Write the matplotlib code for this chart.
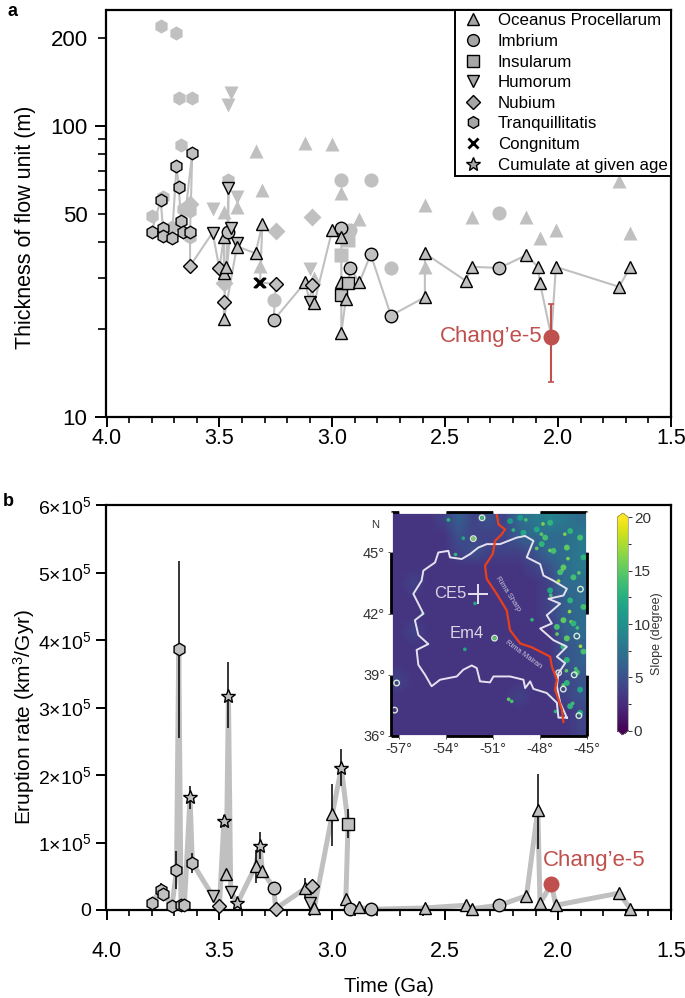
import matplotlib
matplotlib.use('Agg')
import matplotlib.pyplot as plt
import numpy as np
from matplotlib.colorbar import Colorbar
from matplotlib.colors import Normalize
from matplotlib.lines import Line2D

plt.rcParams['font.family'] = ['Liberation Sans', 'DejaVu Sans']
plt.rcParams['mathtext.default'] = 'regular'

# panel a: upper points, no outline
pale_age = [3.76, 3.69, 3.68, 3.62, 3.67, 3.75, 3.80, 3.66, 3.63, 3.46, 3.71, 3.63,
            3.63, 3.09, 3.25, 3.48,
            3.45, 3.46, 3.53, 3.42, 3.10,
            3.34, 3.31, 3.12, 3.00, 2.96, 2.88, 3.42, 3.48, 3.32, 2.59, 2.38, 2.14,
            2.08, 2.01, 1.73, 1.68, 2.59, 3.08,
            2.96, 2.83, 2.92, 2.74, 2.26, 3.26,
            2.96, 2.93]
pale_thick = [221, 208, 125, 125, 86, 57, 49, 52, 51, 65, 45, 41.6,
              54, 48.5, 43.7, 28.8,
              129.5, 118, 52, 57, 32.2,
              82, 60, 87, 86.5, 58.7, 48, 52.6, 50.5, 32.9, 53.5, 48.8, 48.8,
              41.3, 43.9, 64.7, 42.8, 32.8, 30,
              65, 65, 44, 32.5, 50.3, 25.3,
              36, 40.5]
pale_kind = ['h'] * 12 + ['D'] * 4 + ['v'] * 5 + ['^'] * 18 + ['o'] * 6 + ['s'] * 2

# panel a: outlined points joined by the line, in drawing order
thick_age = [3.80, 3.76, 3.75, 3.75, 3.71, 3.69, 3.68, 3.67, 3.66, 3.62, 3.63, 3.63,
             3.53, 3.50, 3.48, 3.48, 3.47, 3.46, 3.46, 3.45, 3.48, 3.48,
             3.42, 3.42, 3.34, 3.31, 3.32, 3.25, 3.26, 3.12, 3.10, 3.09, 3.08, 3.00,
             2.96, 2.96, 2.96, 2.96, 2.96, 2.94, 2.93, 2.92, 2.88, 2.83, 2.74,
             2.59, 2.59, 2.41, 2.38, 2.26, 2.14, 2.09, 2.08, 2.03, 2.01, 1.73, 1.68]
thick_val = [43.3, 55.7, 44.6, 42, 41.3, 72.9, 61.8, 47, 43.3, 81, 43.3, 33,
             43, 32.4, 41.6, 31.2, 32.7, 61.4, 43.3, 44.7, 24.9, 21.7,
             39.5, 38.5, 36.5, 45.9, 28.9, 28.7, 21.5, 29, 24.9, 28.5, 24.6, 44,
             44.5, 41.6, 29, 26.3, 19.5, 25.4, 28.8, 32.4, 29, 36.2, 22.3,
             25.8, 36.5, 29.4, 32.8, 32.5, 36, 32.8, 28.8, 18.9, 32.8, 28, 32.8]
thick_kind = ['h'] * 11 + ['D',
              'v', 'D', '^', '^', '^', 'v', 'o', 'v', 'D', '^',
              'v', '^', '^', '^', 'x', 'D', 'o', '^', 'v', 'D', '^', '^',
              'o', '^', '^', 's', '^', '^', 's', 'o', '^', 'o', 'o',
              '^', '^', '^', '^', 'o', '^', '^', '^', 'CE5', '^', '^', '^']
ce5_thick = 18.9
ce5_thick_low = 13.2
ce5_thick_high = 24.5

# panel b: eruption rate, units of 1e5 km3/Gyr
rate_age = [3.80, 3.76, 3.75, 3.71, 3.69, 3.68, 3.67, 3.655, 3.63, 3.62, 3.53, 3.50,
            3.48, 3.47, 3.46, 3.45, 3.42, 3.34, 3.32, 3.31, 3.26, 3.25, 3.12, 3.10,
            3.09, 3.08, 3.00, 2.96, 2.93, 2.94, 2.92, 2.88, 2.83,
            2.59, 2.41, 2.38, 2.26, 2.14, 2.09, 2.08, 2.03, 2.01, 1.73, 1.68]
rate_val = [0.10, 0.29, 0.24, 0.06, 0.59, 3.86, 0.08, 0.08, 1.67, 0.70, 0.21, 0.06,
            1.32, 0.54, 3.17, 0.27, 0.10, 0.65, 0.95, 0.58, 0.33, 0.02, 0.32, 0.10,
            0.36, 0.03, 1.42, 2.10, 1.28, 0.16, 0.02, 0.04, 0.01,
            0.03, 0.07, 0.02, 0.07, 0.21, 1.48, 0.10, 0.385, 0.07, 0.25, 0.02]
rate_kind = ['h', 'h', 'h', 'h', 'h', 'h', 'h', 'h', '*', 'h', 'v', 'D',
             '*', '^', '*', 'v', '*', '^', '*', '^', 'o', 'D', '^', 'v',
             'D', '^', '^', '*', 's', '^', 'o', '^', 'o',
             '^', '^', '^', 'o', '^', '^', '^', 'CE5', '^', '^', '^']

err_age = [3.76, 3.69, 3.68, 3.63, 3.62, 3.48, 3.46, 3.45, 3.34, 3.32, 3.12, 3.00, 2.96, 2.93, 2.09]
err_low = [0.20, 0.31, 2.55, 1.50, 0.55, 1.23, 2.70, 0.17, 0.40, 0.75, 0.18, 0.95, 1.83, 1.07, 0.91]
err_high = [0.40, 0.87, 5.17, 1.84, 0.85, 1.41, 3.67, 0.36, 0.89, 1.15, 0.47, 1.86, 2.38, 1.50, 2.01]

legend_kind = ['^', 'o', 's', 'v', 'D', 'h', 'x', '*']
legend_names = ['Oceanus Procellarum', 'Imbrium', 'Insularum', 'Humorum', 'Nubium',
                'Tranquillitatis', 'Congnitum', 'Cumulate at given age']

# inset: coarse slope map read by eye, north at the top, 13 columns west to east
slope_grid = [
    [3, 3, 3, 4, 6, 4, 5, 4, 7, 8, 9, 8, 7],
    [3, 3, 3, 3, 5, 4, 4, 4, 6, 7, 7, 7, 8],
    [3, 3, 3, 3, 4, 5, 4, 4, 4, 5, 7, 7, 8],
    [3, 3, 3, 3, 3, 3, 3, 3, 3, 4, 5, 7, 8],
    [3, 4, 3, 3, 3, 3, 3, 3, 3, 3, 4, 7, 7],
    [3, 3, 3, 3, 3, 3, 3, 3, 3, 3, 4, 6, 7],
    [3, 3, 3, 3, 3, 3, 3, 3, 3, 3, 4, 6, 7],
    [3, 4, 3, 3, 3, 3, 3, 3, 3, 3, 3, 6, 7],
    [3, 3, 3, 3, 3, 3, 3, 3, 3, 3, 3, 5, 6],
    [3, 3, 3, 3, 3, 3, 3, 3, 3, 3, 3, 5, 6],
    [4, 3, 3, 3, 3, 3, 3, 3, 3, 3, 3, 4, 5],
    [3, 3, 3, 3, 3, 3, 3, 3, 4, 3, 3, 4, 5],
    [3, 3, 3, 3, 3, 3, 3, 3, 3, 3, 3, 3, 4],
    [3, 3, 3, 3, 3, 3, 3, 3, 3, 3, 3, 3, 4],
]
crater_lon = [-50.9, -48.5, -52.8, -52.15, -50.0, -49.8, -46.6, -47.35, -46.0, -45.6, -46.1, -46.9,
              -47.3, -46.3, -45.7, -45.4, -46.5, -47.0, -45.9, -47.9, -48.9, -49.7, -52.26, -51.7,
              -53.86, -52.9, -53.4, -55.5, -46.2, -45.5, -46.8, -48.2, -47.8, -46.4]
crater_lat = [40.8, 41.7, 40.25, 42.5, 37.8, 37.7, 44.1, 45.1, 41.6, 41.3, 42.1, 41.0,
              42.9, 39.2, 39.3, 40.4, 38.5, 37.2, 37.6, 45.9, 46.6, 46.1, 45.68, 46.7,
              46.6, 45.7, 44.9, 42.0, 44.7, 44.0, 43.6, 45.2, 46.4, 45.9]
crater_slope = [15, 13, 12, 12, 15, 14, 17, 16, 16, 14, 17, 15,
                14, 15, 14, 17, 15, 13, 14, 15, 14, 13, 16, 14,
                13, 12, 13, 11, 16, 15, 17, 15, 16, 16]
blob_lon = [-49.05, -49.26, -47.34, -47.13, -46.49, -46.70, -46.06, -45.21, -46.49, -45.85,
            -46.91, -46.27, -46.49, -45.21, -46.27, -45.63, -46.27, -45.42, -46.06, -45.42,
            -48.20, -49.90, -47.88, -47.66, -46.06, -45.42, -45.21, -46.27, -45.85, -47.34]
blob_lat = [45.97, 46.70, 46.46, 45.08, 44.27, 44.03, 42.65, 42.33, 41.68, 41.52,
            41.35, 40.79, 40.38, 40.14, 39.73, 39.12, 38.60, 38.27, 37.46, 37.14,
            46.13, 46.54, 45.41, 45.73, 46.05, 45.73, 44.76, 45.24, 43.78, 43.14]
blob_slope = [12, 11, 13, 14, 15, 14, 13, 14, 15, 13,
              14, 15, 13, 14, 13, 14, 13, 12, 13, 12,
              12, 11, 13, 14, 13, 14, 13, 15, 14, 12]
ring_lon = [-57.17, -57.3, -50.9, -45.63, -45.4, -46.8, -45.8, -45.5, -46.5, -52.26, -51.7]
ring_lat = [38.6, 37.27, 40.8, 40.9, 43.2, 39.1, 39.0, 37.0, 38.3, 45.68, 46.7]

outline_lon = [-46.27, -46.81, -46.91, -47.56, -48.41, -48.62, -48.94, -49.05, -49.91, -50.97,
               -51.19, -51.83, -52.04, -52.36, -52.90, -53.32, -54.39, -54.93, -55.35, -55.78,
               -55.89, -55.14, -55.78, -56.00, -55.46, -55.78, -56.10, -55.57, -55.46, -54.71,
               -54.50, -53.86, -53.75, -53.00, -52.47, -51.94, -51.40, -50.55, -49.48, -48.94,
               -48.41, -48.84, -47.98, -47.77, -47.13, -46.27, -46.49, -47.45, -46.70, -47.56,
               -47.23, -47.98, -47.13, -46.27, -46.91, -46.38, -46.81, -46.91, -46.70, -46.27]
outline_lat = [36.90, 36.90, 37.63, 38.11, 38.31, 38.68, 38.35, 38.76, 38.92, 38.92,
               38.63, 38.68, 39.33, 39.46, 39.25, 38.92, 38.76, 38.44, 39.00, 39.49,
               40.22, 40.51, 40.95, 41.68, 42.00, 42.49, 42.97, 43.62, 44.11, 44.51,
               45.00, 45.08, 44.76, 44.68, 44.92, 45.24, 45.41, 45.41, 45.73, 45.81,
               45.57, 44.76, 44.43, 43.87, 43.62, 43.22, 42.89, 42.73, 42.49, 41.92,
               41.52, 41.27, 40.70, 40.38, 39.89, 39.57, 39.08, 38.44, 37.63, 36.90]
rille_lon = [-50.76, -50.65, -50.23, -50.44, -50.87, -51.02, -51.51, -51.40, -50.76, -50.12,
             -49.91, -49.26, -48.52, -47.34, -47.23, -46.91, -47.02, -46.59, -46.49]
rille_lat = [46.86, 46.38, 46.13, 45.89, 45.57, 44.92, 44.35, 43.70, 42.97, 42.16,
             41.19, 40.54, 40.35, 39.89, 39.41, 38.76, 38.27, 37.30, 36.69]

GREY = '#c0c0c0'
RED = '#c0504d'
W, H = 685, 998


def px_axes(fig, left, top, right, bottom):
    return fig.add_axes([left / W, 1 - bottom / H, (right - left) / W, (bottom - top) / H])


def marker_size(kind):
    return {'s': 8.5, 'D': 7.5, 'h': 9, 'o': 9, '^': 8.5, 'v': 8.5, '*': 10.5, 'x': 7}[kind]


def draw_points(ax, ages, vals, kinds, outlined):
    for age, val, kind in zip(ages, vals, kinds):
        if kind == 'CE5':
            continue
        if kind == 'x':
            for shift in (-0.006, 0, 0.006):
                ax.plot(age + shift, val, 'x', color='black', ms=7, mew=1.4, zorder=5, clip_on=False)
        elif outlined:
            ax.plot(age, val, kind, mfc=GREY, mec='black', mew=1.0, ms=marker_size(kind), zorder=5)
        else:
            ax.plot(age, val, kind, color=GREY, mec='none', ms=marker_size(kind) + 1.2, zorder=2)


def style_time_axis(ax, pad):
    ax.set_xlim(4.0, 1.5)
    ax.set_xticks([4.0, 3.5, 3.0, 2.5, 2.0, 1.5])
    ax.set_xticklabels(['4.0', '3.5', '3.0', '2.5', '2.0', '1.5'])
    ax.set_xticks(np.arange(1.5, 4.01, 0.1), minor=True)
    ax.tick_params(axis='x', which='major', length=7, width=1.4, labelsize=15.5, pad=pad)
    ax.tick_params(axis='x', which='minor', length=4.5, width=1.2)
    for sp in ax.spines.values():
        sp.set_linewidth(1.6)


fig = plt.figure(figsize=(W / 100, H / 100), dpi=100)

# ---- panel a ----
ax = px_axes(fig, 106.5, 10, 671, 417)
ax.set_yscale('log')
ax.set_ylim(10, 250)
style_time_axis(ax, 1)
draw_points(ax, pale_age, pale_thick, pale_kind, False)
ax.plot(thick_age, thick_val, color=GREY, lw=1.5, solid_joinstyle='miter', zorder=3)
draw_points(ax, thick_age, thick_val, thick_kind, True)
ax.errorbar(2.03, ce5_thick, yerr=[[ce5_thick - ce5_thick_low], [ce5_thick_high - ce5_thick]],
            color=RED, lw=1.5, capsize=2, capthick=1.2, zorder=6)
ax.plot(2.03, ce5_thick, 'o', color=RED, ms=11.5, mec='none', zorder=7)
ax.text(2.07, ce5_thick, 'Chang\u2019e-5', color=RED, fontsize=16, ha='right', va='center', zorder=8)

ax.set_yticks([10, 100])
ax.set_yticklabels(['10', '100'])
minor_y = [20, 30, 40, 50, 60, 70, 80, 90, 200]
ax.set_yticks(minor_y, minor=True)
ax.set_yticklabels(['50' if v == 50 else '200' if v == 200 else '' for v in minor_y], minor=True)
ax.tick_params(axis='y', which='major', length=8, width=1.4, labelsize=16, pad=6)
ax.tick_params(axis='y', which='minor', length=5.5, width=1.2, labelsize=16, pad=8)
ax.set_ylabel('Thickness of flow unit (m)', fontsize=15.5, labelpad=10, y=0.467)

handles = []
for kind, name in zip(legend_kind, legend_names):
    if kind == 'x':
        handles.append(Line2D([], [], ls='none', marker='x', color='black', mew=2, ms=7.5, label=name))
    else:
        handles.append(Line2D([], [], ls='none', marker=kind, mfc='#a6a6a6', mec='black', mew=1.0,
                              ms=marker_size(kind) - 0.5, label=name))
leg = ax.legend(handles=handles, loc='upper right', fontsize=12.2, frameon=True, fancybox=False,
                framealpha=1, edgecolor='black', borderaxespad=0, labelspacing=0.33,
                handletextpad=0.6, borderpad=0.2, handlelength=1.7)
leg.get_frame().set_linewidth(1.4)
leg.set_zorder(10)

# ---- panel b ----
bx = px_axes(fig, 106.5, 505, 671, 910)
bx.set_ylim(0, 6)
style_time_axis(bx, 15)
bx.plot(rate_age, rate_val, color=GREY, lw=3.6, solid_joinstyle='miter', zorder=2, clip_on=False)
bx.vlines(err_age, err_low, err_high, color='black', lw=1.1, zorder=4)
draw_points(bx, rate_age, rate_val, rate_kind, True)
ce5_index = rate_kind.index('CE5')
bx.plot(rate_age[ce5_index], rate_val[ce5_index], 'o', color=RED, ms=11.5, mec='none', zorder=7)
bx.text(1.84, 0.73, 'Chang\u2019e-5', color=RED, fontsize=16, ha='center', va='center', zorder=8)
for line in bx.lines:
    line.set_clip_on(False)

bx.set_yticks(range(7))
bx.set_yticklabels(['0'] + [f'{i}\u00d710$^{{5}}$' for i in range(1, 7)])
bx.tick_params(axis='y', length=7, width=1.4, labelsize=14, pad=4)
bx.set_xlabel('Time (Ga)', fontsize=14.5, labelpad=11)
bx.xaxis.label.set_zorder(3)
bx.set_ylabel('Eruption rate (km$^{3}$/Gyr)', fontsize=15, labelpad=1, y=0.477)

# ---- inset map ----
mx = px_axes(fig, 390.7, 511.7, 586.7, 736)
norm = Normalize(0, 20)
mx.imshow(slope_grid, extent=(-57.55, -45, 36, 47), cmap='viridis', norm=norm,
          aspect='auto', interpolation='bilinear', zorder=1)
mx.scatter(crater_lon, crater_lat, c=crater_slope, cmap='viridis', norm=norm, s=7, lw=0, zorder=2)
mx.scatter(blob_lon, blob_lat, c=blob_slope, cmap='viridis', norm=norm, s=18, lw=0, zorder=2)
mx.scatter(ring_lon, ring_lat, s=16, facecolor='none', edgecolor='#d5ecd8', lw=1.0, zorder=2)
mx.plot(outline_lon, outline_lat, color='#e4e2f0', lw=1.4, zorder=3)
mx.plot(rille_lon, rille_lat, color='#e8401c', lw=1.6, zorder=4)
mx.set_xlim(-57.55, -45)
mx.set_ylim(36, 47)

mx.plot(-51.94, 42.97, '+', color='#e4e2f0', ms=14, mew=1.4, zorder=5)
mx.text(-53.75, 42.97, 'CE5', color='#d8d6e6', fontsize=12, ha='center', va='center', zorder=5)
mx.text(-52.68, 41.03, 'Em4', color='#d8d6e6', fontsize=12, ha='center', va='center', zorder=5)
mx.text(-50.08, 42.95, 'Rima Sharp', color='#c8c6de', fontsize=5.5, rotation=-57,
        ha='center', va='center', zorder=5)
mx.text(-49.05, 39.98, 'Rima Mairan', color='#c8c6de', fontsize=5.5, rotation=-36,
        ha='center', va='center', zorder=5)

mx.set_xticks([-57, -54, -51, -48, -45])
mx.set_xticklabels(['-57\u00b0', '-54\u00b0', '-51\u00b0', '-48\u00b0', '-45\u00b0'])
mx.set_yticks([36, 39, 42, 45])
mx.set_yticklabels(['36\u00b0', '39\u00b0', '42\u00b0', '45\u00b0'])
mx.tick_params(length=2, width=0.6, labelsize=10.5, pad=2, colors='#333333')
for sp in mx.spines.values():
    sp.set_linewidth(0.5)
    sp.set_color('#888888')
fig.text(375 / W, 1 - 525 / H, 'N', fontsize=8, color='#333333', ha='center', va='center')

# black and white frame, as on a GMT map
lon_edges = [-57.55, -57, -54, -51, -48, -45]
lat_edges = [36, 39, 42, 45, 47]
for j in range(len(lon_edges) - 1):
    col = 'black' if j % 2 == 0 else 'white'
    for yy in (36, 47):
        mx.plot(lon_edges[j:j + 2], [yy, yy], color=col, lw=2, clip_on=False,
                solid_capstyle='butt', zorder=6)
for j in range(len(lat_edges) - 1):
    col = 'black' if j % 2 == 0 else 'white'
    for xx in (-57.55, -45):
        mx.plot([xx, xx], lat_edges[j:j + 2], color=col, lw=2, clip_on=False,
                solid_capstyle='butt', zorder=6)

# colour bar
cx = px_axes(fig, 617.3, 513, 628.3, 735)
cb = Colorbar(cx, cmap=plt.get_cmap('viridis'), norm=norm, extend='both', extendfrac=0.02,
              ticks=[0, 5, 10, 15, 20])
cb.ax.set_yticks([2.5, 7.5, 12.5, 17.5], minor=True)
cb.ax.tick_params(which='major', length=3, width=0.7, labelsize=11, pad=1, colors='#333333')
cb.ax.tick_params(which='minor', length=2, width=0.6)
cb.outline.set_linewidth(0.5)
cb.outline.set_edgecolor('#888888')
fig.text(657 / W, 1 - 634 / H, 'Slope (degree)', fontsize=9, color='#333333',
         rotation=90, ha='center', va='center')

fig.text(8 / W, 1 - 11 / H, 'a', fontsize=13, fontweight='bold', ha='left', va='center')
fig.text(3 / W, 1 - 501 / H, 'b', fontsize=13, fontweight='bold', ha='left', va='center')

fig.savefig('out.png', dpi=100)
